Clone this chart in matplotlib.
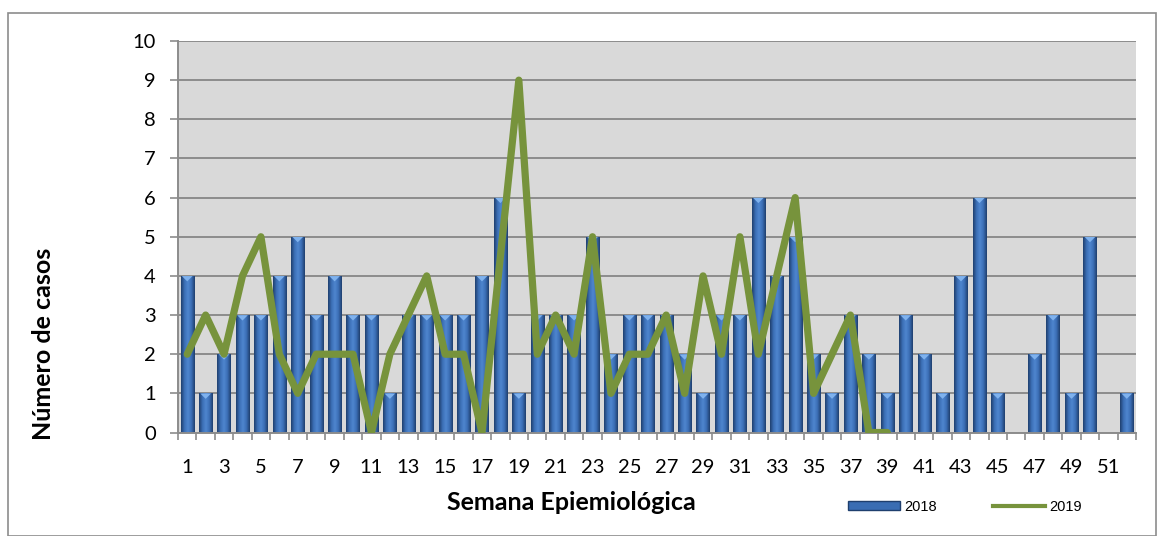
import numpy as np
import matplotlib
matplotlib.use("Agg")
import matplotlib.pyplot as plt
from matplotlib.patches import Rectangle
from matplotlib.lines import Line2D

weeks = list(range(1, 53))
cases_2018 = [4, 1, 2, 3, 3, 4, 5, 3, 4, 3, 3, 1, 3, 3, 3, 3, 4, 6, 1, 3,
              3, 3, 5, 2, 3, 3, 3, 2, 1, 3, 3, 6, 4, 5, 2, 1, 3, 2, 1, 3,
              2, 1, 4, 6, 1, 0, 2, 3, 1, 5, 0, 1]
weeks_2019 = list(range(1, 40))
cases_2019 = [2, 3, 2, 4, 5, 2, 1, 2, 2, 2, 0, 2, 3, 4, 2, 2, 0, 4.5, 9, 2,
              3, 2, 5, 1, 2, 2, 3, 1, 4, 2, 5, 2, 4, 6, 1, 2, 3, 0, 0]
y_ticks = list(range(0, 11))
x_tick_labels = [str(w) for w in weeks if w % 2 == 1]

W, H = 1164, 536
fig = plt.figure(figsize=(W / 100, H / 100), dpi=100)
L, R, T, B = 178, 1136, 41, 432.5
ax = fig.add_axes([L / W, 1 - B / H, (R - L) / W, (B - T) / H])
ax.set_facecolor("#d9d9d9")

# bars with cylinder-like gradient
bars = ax.bar(weeks, cases_2018, width=0.72, color="#3a6db3", edgecolor="none", zorder=2)
cmap = matplotlib.colors.LinearSegmentedColormap.from_list(
    "cyl", ["#1f3f6e", "#3b6fb6", "#4f86cf", "#3b6fb6", "#1f3f6e"])
img = np.linspace(0, 1, 64).reshape(1, -1)
for b in bars:
    x0, w, h = b.get_x(), b.get_width(), b.get_height()
    if h <= 0:
        continue
    im = ax.imshow(img, extent=(x0, x0 + w, 0, h), aspect="auto", cmap=cmap,
                   zorder=2.1, interpolation="bilinear")
    im.set_clip_path(b)
    ax.fill([x0 + w * 0.1, x0 + w * 0.9, x0 + w * 0.5], [h - 0.005, h - 0.005, h - 0.14],
            color="#7fb2ee", zorder=2.2, lw=0)

ax.plot(weeks_2019, cases_2019, color="#77933c", lw=5.2, zorder=3,
        solid_joinstyle="round", solid_capstyle="round")

ax.set_xlim(0.5, 52.5)
ax.set_ylim(0, 10)
ax.set_yticks(y_ticks)
ax.yaxis.grid(True, color="#8c8c8c", lw=1.4, zorder=1)
ax.set_axisbelow(True)

ax.set_xticks([w for w in weeks if w % 2 == 1])
ax.set_xticklabels(x_tick_labels)
ax.set_xticks(np.arange(0.5, 53.0, 1.0), minor=True)
ax.tick_params(axis="x", which="major", length=0, pad=19)
ax.tick_params(axis="x", which="minor", length=5, color="#8c8c8c", width=1.2)
ax.tick_params(axis="y", length=6, color="#8c8c8c", width=1.2, pad=10)
for lab in ax.get_xticklabels() + ax.get_yticklabels():
    lab.set_fontfamily("Lato")
    lab.set_fontsize(14.5)

for s in ["top", "right"]:
    ax.spines[s].set_visible(False)
for s in ["left", "bottom"]:
    ax.spines[s].set_color("#8c8c8c")
    ax.spines[s].set_linewidth(1.4)

fig.text(44 / W, 1 - 344 / H, "Número de casos", rotation=90, ha="center", va="center",
         fontfamily="Lato", fontweight="bold", fontsize=18)
fig.text(571 / W, 1 - 502 / H, "Semana Epiemiológica", ha="center", va="center",
         fontfamily="Lato", fontweight="bold", fontsize=18)

# outer border
fig.patches.append(Rectangle((8 / W, 0), (1156 - 8) / W, 1 - 13 / H, transform=fig.transFigure,
                             fill=False, edgecolor="#8c8c8c", lw=1.2))

handles = [Rectangle((0, 0), 1, 1, facecolor="#3a6db3", edgecolor="#1f3f6e"),
           Line2D([0], [0], color="#77933c", lw=3)]
fig.legend(handles, ["2018", "2019"], loc="center", ncol=2, frameon=False,
           bbox_to_anchor=(965 / W, 1 - 507 / H), prop={"family": "Liberation Sans", "size": 10.5},
           handlelength=3.6, handleheight=0.55, columnspacing=3.8, handletextpad=0.3)

fig.savefig("out.png", dpi=100)
